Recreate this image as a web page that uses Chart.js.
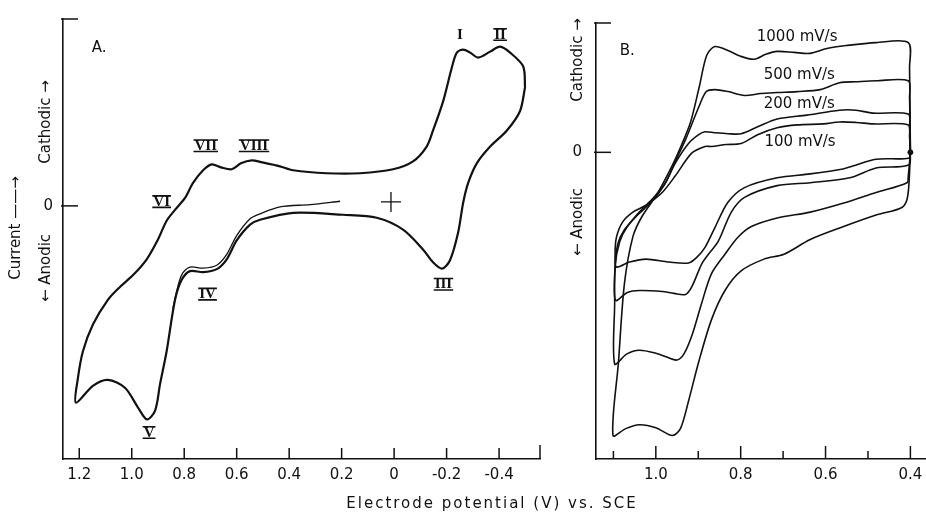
<!DOCTYPE html>
<html lang="en">
<head>
<meta charset="UTF-8">
<title>Cyclic voltammograms</title>
<script src="https://cdn.jsdelivr.net/npm/chart.js"></script>
<style>
body {
    margin: 0;
    width: 926px;
    height: 512px;
    overflow: hidden;
    position: relative;
    background: #fff;
    color: #111;
    font-family: 'DejaVu Sans', sans-serif;
}
#chartA { position: absolute; left: 0; top: 0; }
#chartB { position: absolute; left: 560px; top: 0; }
/* rotated side labels */
.vlab {
    position: absolute;
    white-space: nowrap;
    font-size: 15px;
    transform: translate(-50%, -50%) rotate(-90deg);
}
#xTitle {
    position: absolute;
    left: 492px;
    top: 503px;
    transform: translate(-50%, -50%);
    font-size: 15px;
    letter-spacing: 2px;
    white-space: nowrap;
}
</style>
</head>
<body>
<canvas id="chartA" width="560" height="512"></canvas>
<canvas id="chartB" width="380" height="512"></canvas>

<div class="vlab" style="left:15px; top:228px;">Current ——→</div>
<div class="vlab" style="left:45px; top:122px;">Cathodic →</div>
<div class="vlab" style="left:45px; top:268px;">← Anodic</div>
<div class="vlab" style="left:577px; top:60px;">Cathodic →</div>
<div class="vlab" style="left:577px; top:222px;">← Anodic</div>
<div id="xTitle">Electrode potential (V) vs. SCE</div>

<script>
// ---- panel A : potential (V), current (arbitrary units) ----
var aTickValues = [1.2, 1.0, 0.8, 0.6, 0.4, 0.2, 0, -0.2, -0.4];
var aTickLabels = ['1.2', '1.0', '0.8', '0.6', '0.4', '0.2', '0', '-0.2', '-0.4'];

// full cycle, starting at the negative end and going anodic first
var aLoopV = [-0.499, -0.480, -0.429, -0.366, -0.315, -0.282, -0.263, -0.244, -0.213, -0.183, -0.148, -0.110, -0.034, 0.066, 0.195, 0.385, 0.511, 0.549, 0.600, 0.638, 0.676, 0.728, 0.778, 0.810, 0.835, 0.867, 0.892, 0.911, 0.942, 0.976, 1.026, 1.091, 1.148, 1.213,
              1.205, 1.186, 1.148, 1.091, 1.045, 0.995, 0.943, 0.900, 0.867, 0.835, 0.797, 0.767, 0.728, 0.695, 0.660, 0.619, 0.584, 0.543, 0.503, 0.435, 0.385, 0.257, 0.130, 0.004, -0.072, -0.124, -0.148, -0.187, -0.220, -0.239, -0.263, -0.290, -0.320, -0.366, -0.404, -0.442, -0.492, -0.499];
var aLoopI = [12.0, 9.6, 7.6, 6.0, 4.3, 2.3, 0.3, -2.7, -5.5, -6.35, -5.7, -4.4, -2.4, -1.2, -0.9, -0.7, -1.4, -1.9, -3.5, -5.4, -6.4, -6.7, -6.6, -7.5, -9.5, -14.7, -18.0, -20.7, -21.6, -20.4, -18.4, -17.6, -18.2, -19.9,
              -17.4, -14.7, -12.0, -9.5, -8.2, -7.0, -5.4, -3.4, -1.5, -0.4, 0.8, 2.3, 3.6, 4.2, 3.9, 3.7, 4.3, 4.6, 4.4, 4.0, 3.6, 3.3, 3.3, 3.7, 4.5, 6.0, 7.6, 10.6, 14.0, 15.5, 15.8, 15.5, 15.0, 15.6, 16.1, 15.5, 14.1, 12.0];

// first sweep from the rest potential
var aScanV = [0.206, 0.320, 0.435, 0.511, 0.549, 0.600, 0.638, 0.676, 0.728, 0.778, 0.810, 0.831, 0.843];
var aScanI = [0.47, 0.13, -0.1, -0.8, -1.3, -3.0, -4.9, -6.0, -6.3, -6.2, -7.0, -8.9, -10.4];

var aOriginV = [0.012];
var aOriginI = [0.4];

var aNoteText = ['A.', 'I', 'II', 'III', 'IV', 'V', 'VI', 'VII', 'VIII'];
var aNoteV = [1.152, -0.251, -0.404, -0.188, 0.711, 0.934, 0.886, 0.718, 0.534];
var aNoteI = [16.0, 17.3, 17.3, -7.95, -8.95, -22.95, 0.4, 6.05, 6.05];

// ---- panel B ----
var bTickValues = [1.1, 1.0, 0.9, 0.8, 0.7, 0.6, 0.5, 0.4];
var bTickLabels = ['', '1.0', '', '0.8', '', '0.6', '', '0.4'];

var b1000V = [0.400, 0.406, 0.419, 0.481, 0.559, 0.636, 0.698, 0.745, 0.799, 0.837, 0.869, 0.899, 0.923, 0.942, 0.961, 1.000, 1.039, 1.071, 1.101,
              1.088, 1.074, 1.054, 1.032, 0.999, 0.962, 0.939, 0.918, 0.897, 0.880, 0.861, 0.830, 0.800, 0.768, 0.741, 0.714, 0.674, 0.637, 0.597, 0.551, 0.481, 0.405, 0.402, 0.400];
var b1000I = [0, -4.4, -5.6, -6.4, -7.6, -8.9, -10.4, -10.9, -12.1, -14.1, -17.1, -21.4, -25.4, -28.2, -28.9, -28.1, -27.8, -28.2, -28.9,
              -21.4, -13.4, -8.6, -6.5, -4.4, -1.4, 0.8, 3.1, 6.8, 9.9, 10.8, 10.4, 9.8, 9.5, 10.0, 10.3, 10.2, 10.1, 10.6, 10.9, 11.2, 11.2, 8.6, 0];

var b500V = [0.400, 0.405, 0.408, 0.481, 0.559, 0.636, 0.714, 0.776, 0.807, 0.837, 0.869, 0.892, 0.915, 0.934, 0.950, 0.974, 1.000, 1.039, 1.069, 1.097,
             1.097, 1.096, 1.085, 1.069, 1.039, 1.009, 0.977, 0.954, 0.930, 0.899, 0.881, 0.861, 0.830, 0.791, 0.753, 0.714, 0.667, 0.613, 0.567, 0.528, 0.481, 0.405, 0.402, 0.400];
var b500I = [0, -2.4, -3.1, -4.1, -5.2, -6.1, -6.7, -7.6, -8.7, -10.4, -12.4, -15.4, -18.7, -20.6, -21.2, -20.9, -20.5, -20.2, -20.6, -21.6,
             -15.4, -11.6, -9.1, -7.7, -6.1, -4.8, -3.1, -0.9, 1.3, 4.6, 6.2, 6.4, 6.2, 5.8, 6.0, 6.1, 6.2, 6.4, 7.1, 7.2, 7.3, 7.3, 5.6, 0];

var b200V = [0.400, 0.404, 0.481, 0.543, 0.636, 0.714, 0.791, 0.822, 0.853, 0.876, 0.892, 0.915, 0.930, 0.957, 0.985, 1.039, 1.067, 1.095,
             1.096, 1.090, 1.074, 1.043, 1.009, 0.981, 0.954, 0.923, 0.899, 0.884, 0.862, 0.830, 0.799, 0.760, 0.714, 0.644, 0.567, 0.528, 0.489, 0.405, 0.402, 0.400];
var b200I = [0, -1.3, -1.6, -2.6, -3.1, -3.4, -4.6, -6.1, -9.1, -10.4, -11.4, -13.7, -14.5, -14.4, -14.2, -14.1, -14.3, -15.1,
             -11.9, -9.4, -7.9, -6.4, -5.0, -3.4, -1.1, 0.9, 1.8, 2.1, 2.0, 1.9, 1.9, 2.6, 3.4, 3.8, 4.3, 4.3, 4.0, 3.9, 2.6, 0];

var b100V = [0.400, 0.404, 0.481, 0.536, 0.559, 0.636, 0.714, 0.791, 0.830, 0.861, 0.884, 0.903, 0.923, 0.969, 1.023, 1.062, 1.093,
             1.096, 1.093, 1.078, 1.054, 1.023, 0.985, 0.954, 0.916, 0.884, 0.869, 0.834, 0.799, 0.760, 0.714, 0.667, 0.605, 0.567, 0.528, 0.489, 0.405, 0.402, 0.400];
var b100I = [0, -0.6, -0.7, -1.4, -1.7, -2.2, -2.6, -3.6, -5.1, -7.7, -9.7, -10.7, -11.3, -11.2, -10.9, -11.2, -11.7,
             -10.4, -8.7, -7.1, -6.1, -5.4, -4.1, -2.4, -0.1, 0.6, 0.6, 0.8, 0.9, 1.8, 2.5, 2.8, 2.9, 3.1, 3.05, 2.9, 2.8, 1.6, 0];

var bStartV = [0.400];
var bStartI = [0];

var bNoteText = ['B.', '1000 mV/s', '500 mV/s', '200 mV/s', '100 mV/s'];
var bNoteV = [1.085, 0.667, 0.662, 0.662, 0.660];
var bNoteI = [10.3, 11.8, 7.9, 4.9, 1.0];

var INK = '#111';

function pts(v, i) {
    return v.map(function (x, k) { return { x: x, y: i[k] }; });
}

function curve(v, i, w) {
    return { data: pts(v, i), showLine: true, borderColor: INK, borderWidth: w,
             pointRadius: 0, tension: 0.3, fill: false };
}

// tick marks pointing into the plot, drawn on the library's scales
function inwardTicks(labels, len, minorLen, endTick) {
    return {
        id: 'inwardTicks',
        afterDraw: function (chart) {
            var ctx = chart.ctx, sx = chart.scales.x, sy = chart.scales.y;
            ctx.save();
            ctx.strokeStyle = INK;
            ctx.lineWidth = 1.5;
            sx.ticks.forEach(function (t, k) {
                var px = sx.getPixelForValue(t.value);
                var l = labels[k] ? len : minorLen;
                ctx.beginPath();
                ctx.moveTo(px, sx.top);
                ctx.lineTo(px, sx.top - l);
                ctx.stroke();
            });
            if (endTick) {
                ctx.beginPath();
                ctx.moveTo(sx.right, sx.top);
                ctx.lineTo(sx.right, sx.top - 14);
                ctx.stroke();
            }
            sy.ticks.forEach(function (t) {
                var py = sy.getPixelForValue(t.value);
                ctx.beginPath();
                ctx.moveTo(sy.right - 2, py);
                ctx.lineTo(sy.right + 15, py);
                ctx.stroke();
            });
            ctx.restore();
        }
    };
}

// text notes placed in data coordinates
function notes(texts, vs, is) {
    return {
        id: 'notes',
        afterDatasetsDraw: function (chart) {
            var ctx = chart.ctx, sx = chart.scales.x, sy = chart.scales.y;
            ctx.save();
            ctx.fillStyle = INK;
            ctx.strokeStyle = INK;
            ctx.textBaseline = 'middle';
            texts.forEach(function (t, k) {
                var px = sx.getPixelForValue(vs[k]);
                var py = sy.getPixelForValue(is[k]);
                var roman = /^[IVX]+$/.test(t);
                if (roman) {
                    ctx.font = 'bold 15px "Liberation Serif", serif';
                    ctx.textAlign = 'center';
                } else {
                    ctx.font = '15px "DejaVu Sans", sans-serif';
                    ctx.textAlign = (t === 'A.' || t === 'B.') ? 'left' : 'center';
                }
                ctx.fillText(t, px, py);
                if (roman && t !== 'I') {
                    var w = ctx.measureText(t).width;
                    ctx.lineWidth = 1.6;
                    ctx.beginPath();
                    ctx.moveTo(px - w / 2 - 1, py - 6);
                    ctx.lineTo(px + w / 2 + 1, py - 6);
                    ctx.moveTo(px - w / 2 - 1, py + 5.5);
                    ctx.lineTo(px + w / 2 + 1, py + 5.5);
                    ctx.stroke();
                }
            });
            ctx.restore();
        }
    };
}

function makeChart(id, datasets, xr, yr, yWidth, tickValues, tickLabels, pad, plugins) {
    return new Chart(document.getElementById(id), {
        type: 'scatter',
        data: { datasets: datasets },
        options: {
            responsive: false,
            animation: false,
            layout: { padding: pad },
            plugins: { legend: { display: false }, tooltip: { enabled: false } },
            scales: {
                x: {
                    type: 'linear',
                    reverse: true,
                    min: xr[0], max: xr[1],
                    grid: { display: false, drawTicks: false },
                    border: { display: true, color: INK, width: 1.6 },
                    afterBuildTicks: function (axis) {
                        axis.ticks = tickValues.map(function (v) { return { value: v }; });
                    },
                    afterFit: function (axis) { axis.height = 53; },
                    ticks: {
                        autoSkip: false,
                        maxRotation: 0,
                        padding: 7,
                        color: INK,
                        font: { family: 'DejaVu Sans', size: 15 },
                        callback: function (v, k) { return tickLabels[k]; }
                    }
                },
                y: {
                    type: 'linear',
                    min: yr[0], max: yr[1],
                    grid: { display: false, drawTicks: false },
                    border: { display: true, color: INK, width: 1.6 },
                    afterBuildTicks: function (axis) {
                        axis.ticks = [{ value: 0 }, { value: yr[1] }];
                    },
                    afterFit: function (axis) { axis.width = yWidth; },
                    ticks: {
                        padding: yWidth === 63 ? 10 : 14,
                        color: INK,
                        font: { family: 'DejaVu Sans', size: 15 },
                        callback: function (v) { return v === 0 ? '0' : ''; }
                    }
                }
            }
        },
        plugins: plugins
    });
}

makeChart('chartA', [
        curve(aLoopV, aLoopI, 2.2),
        curve(aScanV, aScanI, 1.3),
        { data: pts(aOriginV, aOriginI), pointStyle: 'cross', pointRadius: 10,
          borderColor: INK, borderWidth: 1.3, showLine: false }
    ],
    [-0.556, 1.262], [-25.6, 18.9], 63, aTickValues, aTickLabels,
    { top: 14, right: 20, bottom: 0, left: 0 },
    [inwardTicks(aTickLabels, 11, 11, true), notes(aNoteText, aNoteV, aNoteI)]);

makeChart('chartB', [
        curve(b1000V, b1000I, 1.6),
        curve(b500V, b500I, 1.6),
        curve(b200V, b200I, 1.6),
        curve(b100V, b100I, 1.6),
        { data: pts(bStartV, bStartI), pointStyle: 'circle', pointRadius: 2.5,
          backgroundColor: INK, borderColor: INK, showLine: false }
    ],
    [0.342, 1.141], [-31.3, 13.2], 36, bTickValues, bTickLabels,
    { top: 14, right: 0, bottom: 0, left: 0 },
    [inwardTicks(bTickLabels, 13, 8, false), notes(bNoteText, bNoteV, bNoteI)]);
</script>
</body>
</html>
